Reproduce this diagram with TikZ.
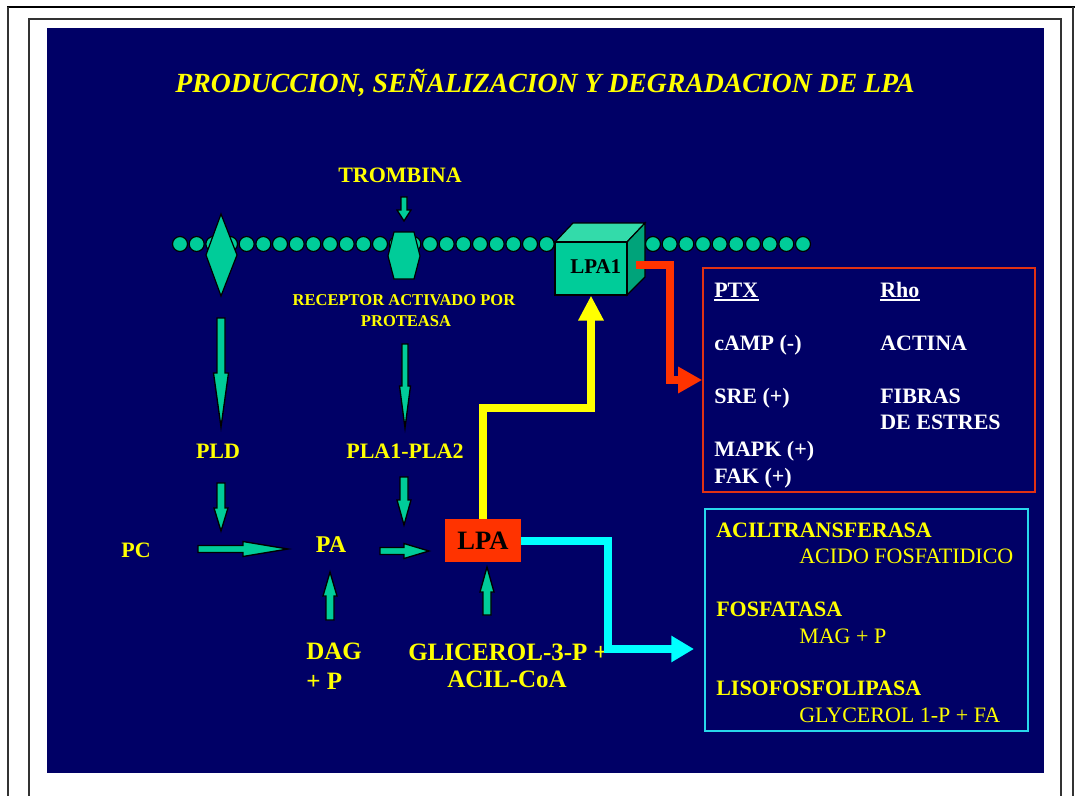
\documentclass[tikz,border=0pt]{standalone}
\usepackage{fontspec}
\setmainfont{Liberation Serif}
\usetikzlibrary{arrows.meta,calc}
\definecolor{bgblue}{RGB}{0,0,102}
\definecolor{lgreen}{RGB}{0,204,153}
\definecolor{lgreentop}{RGB}{51,219,170}
\definecolor{lgreenside}{RGB}{0,163,122}
\definecolor{lred}{RGB}{255,51,0}
\definecolor{boxred}{RGB}{225,50,20}
\definecolor{lcyan}{RGB}{0,255,255}
\definecolor{boxcyan}{RGB}{40,215,235}
\definecolor{lyellow}{RGB}{255,255,0}
\newcommand\GArrV[6]{\draw[garrow] (#1-#5,#2) -- (#1-#5,#4) -- (#1-#6,#4) -- (#1,#3) -- (#1+#6,#4) -- (#1+#5,#4) -- (#1+#5,#2) -- cycle;}
\newcommand\GArrH[6]{\draw[garrow] (#2,#1-#5) -- (#4,#1-#5) -- (#4,#1-#6) -- (#3,#1) -- (#4,#1+#6) -- (#4,#1+#5) -- (#2,#1+#5) -- cycle;}
\begin{document}
\begin{tikzpicture}[x=0.75pt,y=-0.75pt,
  txt/.style={inner sep=0pt, anchor=base west, text=lyellow, font=\bfseries\fontsize{16.5}{19}\selectfont},
  ctxt/.style={txt, anchor=base},
  wtxt/.style={txt, text=white},
  rtxt/.style={txt, font=\fontsize{16.5}{19}\selectfont},
  memb/.style={fill=lgreen, draw=black, line width=0.9pt},
  garrow/.style={fill=lgreen, draw=black, line width=1pt, line join=miter},
  fatline/.style={line width=6pt, line join=miter},
  yelconn/.style={fatline, draw=lyellow, -{Triangle[length=18.75pt,width=18pt]}},
  redconn/.style={fatline, draw=lred, -{Triangle[length=18pt,width=18.75pt]}},
  cyanconn/.style={fatline, draw=lcyan, -{Triangle[length=17pt,width=18.75pt]}},
  frameline/.style={draw=black!80, line width=1.5pt}
]
\useasboundingbox (0,0) rectangle (1075,796);
% frames
\draw[black, line width=2pt] (7,7) -- (1075,7);
\draw[frameline] (8,7) -- (8,796);
\draw[frameline] (1073,7) -- (1073,796);
\draw[frameline] (29,796) -- (29,19) -- (1061,19) -- (1061,796);
\fill[bgblue] (47,28) rectangle (1044,773);

% title
\node[ctxt, font=\bfseries\itshape\fontsize{20.8}{24}\selectfont] (title) at (545,92) {PRODUCCION, SEÑALIZACION Y DEGRADACION DE LPA};

% membrane
\foreach \k in {0,...,22} \draw[memb] (180+\k*16.667,244) circle (7.5);
\foreach \k in {0,...,9} \draw[memb] (653+\k*16.667,244) circle (7.5);
\draw[memb] (221,214) -- (237,255) -- (221,296) -- (206,255) -- cycle;
\draw[memb] (394,232) -- (414,232) -- (420,256) -- (414,279) -- (394,279) -- (388,256) -- cycle;

% cube LPA1
\draw[memb, fill=lgreentop] (555,242) -- (573,223) -- (645,223) -- (627,242) -- cycle;
\draw[memb, fill=lgreenside] (627,242) -- (645,223) -- (645,277) -- (627,295) -- cycle;
\node[memb, rectangle, minimum width=54pt, minimum height=39.75pt, inner sep=0pt] (lpa1) at (591,268.5) {};
\node[txt, text=black, font=\bfseries\fontsize{15.75}{18}\selectfont] (lpa1t) at (570,273) {LPA1};

% texts
\node[ctxt] (trombina) at (400,182) {TROMBINA};
\node[ctxt, font=\bfseries\fontsize{12.4}{15}\selectfont] (rec1) at (404,305.5) {RECEPTOR ACTIVADO POR};
\node[ctxt, font=\bfseries\fontsize{12.4}{15}\selectfont] (rec2) at (406,326.5) {PROTEASA};
\node[ctxt] (pld) at (218,458) {PLD};
\node[ctxt] (pla) at (405,458) {PLA1-PLA2};
\node[ctxt] (pc) at (136,557) {PC};
\node[ctxt, font=\bfseries\fontsize{18}{21}\selectfont] (pa) at (331,552) {PA};
\node[txt, font=\bfseries\fontsize{18.75}{22}\selectfont] (dag) at (306,659) {DAG};
\node[txt, font=\bfseries\fontsize{18.75}{22}\selectfont] (dagp) at (306,689) {+ P};
\node[txt, font=\bfseries\fontsize{18.75}{22}\selectfont] (glic) at (408,660) {GLICEROL-3-P +};
\node[txt, font=\bfseries\fontsize{18.75}{22}\selectfont] (acil) at (447,687) {ACIL-CoA};

% LPA box
\node[fill=lred, minimum width=57pt, minimum height=32.25pt, inner sep=0pt, text=black, font=\bfseries\fontsize{19.9}{22}\selectfont] (lpa) at (483,540.5) {LPA};

% green arrows
\GArrV{404}{197}{221}{210}{3}{7}
\GArrV{221}{318}{427}{373}{4}{7.5}
\GArrV{405}{344}{428}{386}{3}{5.5}
\GArrV{221}{483}{531}{508}{4}{7}
\GArrV{404}{477}{525}{500}{4}{7}
\GArrH{549}{198}{288}{243}{3.5}{7.5}
\GArrH{551}{380}{429}{404}{3.5}{7.5}
\GArrV{330}{620}{572}{596}{4}{7}
\GArrV{487}{615}{567}{592}{4}{7}

% red box
\node[draw=boxred, line width=1.2pt, minimum width=249pt, minimum height=168pt, inner sep=0pt] (rbox) at (869,380) {};
\node[wtxt] (ptx) at (714,297) {PTX};
\node[wtxt] (rho) at (880,297) {Rho};
\draw[white, line width=1.5pt] ($(ptx.base west)+(0,3)$) -- ($(ptx.base east)+(0,3)$);
\draw[white, line width=1.5pt] ($(rho.base west)+(0,3)$) -- ($(rho.base east)+(0,3)$);
\node[wtxt] (camp) at (714,350) {cAMP (-)};
\node[wtxt] (actina) at (880,350) {ACTINA};
\node[wtxt] (sre) at (714,403) {SRE (+)};
\node[wtxt] (fibras) at (880,403) {FIBRAS};
\node[wtxt] (estres) at (880,429) {DE ESTRES};
\node[wtxt] (mapk) at (714,456) {MAPK (+)};
\node[wtxt] (fak) at (714,483) {FAK (+)};

% cyan box
\node[draw=boxcyan, line width=1.2pt, minimum width=242.25pt, minimum height=166.5pt, inner sep=0pt] (cbox) at (866.5,620) {};
\node[txt] (acilt) at (716,537) {ACILTRANSFERASA};
\node[rtxt] (acido) at (799,563) {ACIDO FOSFATIDICO};
\node[txt] (fosf) at (716,616) {FOSFATASA};
\node[rtxt] (mag) at (799,643) {MAG + P};
\node[txt] (liso) at (716,695) {LISOFOSFOLIPASA};
\node[rtxt] (glyc) at (799,722) {GLYCEROL 1-P + FA};

% connectors
\draw[yelconn] (lpa.north) -- ++(0,-111) -| (lpa1.south);
\coordinate (rs) at (636,265);
\draw[redconn] (rs) -- (670,265) |- (rbox.west);
\coordinate (ct) at (694,649);
\draw[cyanconn] (lpa.east) -| (608,649) -- (ct);
\end{tikzpicture}
\end{document}
